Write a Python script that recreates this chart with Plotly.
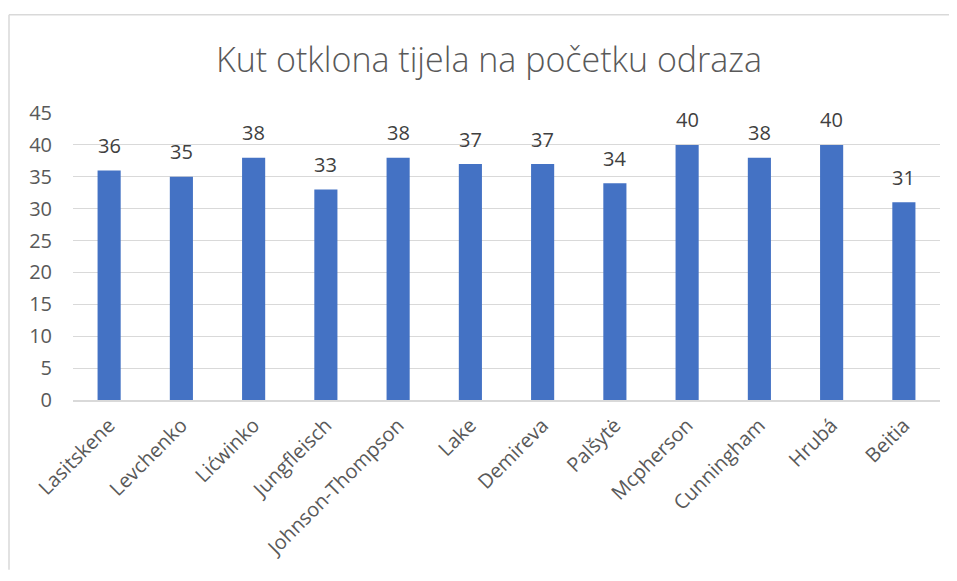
import plotly.graph_objects as go

athletes = ["Lasitskene", "Levchenko", "Lićwinko", "Jungfleisch", "Johnson-Thompson",
            "Lake", "Demireva", "Palšytė", "Mcpherson", "Cunningham", "Hrubá", "Beitia"]
angles = [36, 35, 38, 33, 38, 37, 37, 34, 40, 38, 40, 31]
y_ticks = [0, 5, 10, 15, 20, 25, 30, 35, 40, 45]

OFF = 8  # page body margin
W, H = 957 - OFF, 581 - 2 * OFF
L, R, T, B = 73 - OFF, 940 - OFF, 113 - OFF, 402 - OFF

fig = go.Figure(go.Bar(
    x=athletes, y=angles,
    marker=dict(color="#4472C4", line=dict(width=0)),
    cliponaxis=False,
))

for a, v in zip(athletes, angles):
    fig.add_annotation(x=a, y=v, text=str(v), showarrow=False, yanchor="middle",
                       yshift=25, font=dict(family="Open Sans", size=20, color="#404040"))

pw, ph = R - L, B - T
bx0 = (9 - OFF - L) / pw
bx1 = (W - L) / pw
by0 = (B - H) / ph
by1 = (B - (14 - OFF)) / ph
border = dict(color="#d9d9d9", width=1.5)
fig.add_shape(type="line", xref="paper", yref="paper", x0=bx0, x1=bx0, y0=by0, y1=by1,
              line=border, layer="below")
fig.add_shape(type="line", xref="paper", yref="paper", x0=bx0, x1=bx1, y0=by1, y1=by1,
              line=border, layer="below")

fig.update_layout(
    width=W, height=H,
    margin=dict(l=L, r=W - R, t=T, b=H - B),
    paper_bgcolor="white", plot_bgcolor="white",
    title=dict(text="Kut otklona tijela na početku odraza", x=(489 - OFF) / W, xanchor="center",
               y=(H - (60 - OFF)) / H, yanchor="middle",
               font=dict(family="Open Sans", size=34, color="#595959", weight=300)),
    bargap=0.68,
    showlegend=False,
    font=dict(family="Open Sans", color="#595959"),
)
fig.update_yaxes(range=[0, 45], tickvals=y_ticks, showgrid=True, gridcolor="#d9d9d9",
                 gridwidth=1.3, zeroline=False, showline=False, ticks="",
                 tickfont=dict(size=20, color="#595959"), ticklabelstandoff=20)
fig.update_xaxes(tickangle=-45, showline=True, linecolor="#d9d9d9", linewidth=1.5,
                 ticks="", tickfont=dict(size=20, color="#595959"), ticklabelstandoff=4)

fig.write_html("out.html")
